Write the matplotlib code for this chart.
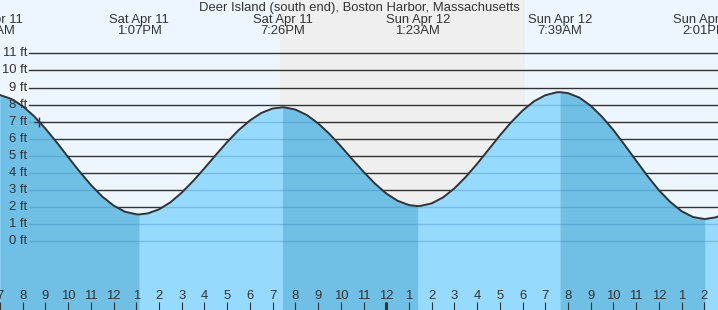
import numpy as np
import matplotlib.pyplot as plt

plt.rcParams['font.family'] = ['Liberation Sans', 'DejaVu Sans']

title = 'Deer Island (south end), Boston Harbor, Massachusetts'

# hours after midnight Sat Apr 11 / predicted height in ft
hours = [7, 7.5, 8, 8.5, 9, 9.5, 10, 10.5, 11, 11.5, 12, 12.5, 13, 13.117,
         13.5, 14, 14.5, 15, 15.5, 16, 16.5, 17, 17.5, 18, 18.5, 19, 19.433,
         19.5, 20, 20.5, 21, 21.5, 22, 22.5, 23, 23.5, 24, 24.5, 25, 25.383,
         25.5, 26, 26.5, 27, 27.5, 28, 28.5, 29, 29.5, 30, 30.5, 31, 31.5, 31.65,
         32, 32.5, 33, 33.5, 34, 34.5, 35, 35.5, 36, 36.5, 37, 37.5, 38, 38.017,
         38.5, 39]
heights = [8.56, 8.33, 7.91, 7.32, 6.59, 5.78, 4.92, 4.08, 3.29, 2.61, 2.08, 1.72, 1.57, 1.56,
           1.62, 1.86, 2.27, 2.84, 3.52, 4.27, 5.05, 5.81, 6.50, 7.07, 7.51, 7.77, 7.84,
           7.84, 7.71, 7.39, 6.90, 6.28, 5.56, 4.80, 4.06, 3.37, 2.79, 2.36, 2.11, 2.05,
           2.06, 2.21, 2.56, 3.09, 3.76, 4.53, 5.36, 6.19, 6.97, 7.65, 8.19, 8.55, 8.72, 8.73,
           8.67, 8.41, 7.93, 7.28, 6.50, 5.62, 4.71, 3.81, 2.98, 2.29, 1.75, 1.41, 1.29, 1.29,
           1.39, 1.70]

# high / low tides (alternating, starting with a high)
ext_hours = [6.70, 13.117, 19.433, 25.383, 31.65, 38.017]
ext_dates = ['Sat Apr 11', 'Sat Apr 11', 'Sat Apr 11', 'Sun Apr 12', 'Sun Apr 12', 'Sun Apr 12']
ext_times = ['6:42AM', '1:07PM', '7:26PM', '1:23AM', '7:39AM', '2:01PM']

sunset = 19.33
sunrise = 30.11
now_hour = 24.0
mark_hour = 8.72
mark_ft = 7.0

ft_levels = list(range(0, 12))
hour_ticks = list(range(7, 39))

t = np.array(hours)
h = np.array(heights)

FS = 9.4
W, H = 718., 310.
fig = plt.figure(figsize=(W / 100, H / 100), dpi=100)
ax = fig.add_axes([0, 0, 1, 1])
ax.set_xlim(7.065, 38.6)
ax.set_ylim(-4.04, 14.13)
ax.set_facecolor('#edf6fe')
for s in ax.spines.values():
    s.set_visible(False)
ax.set_yticks([])

# night
ax.axvspan(sunset, sunrise, color='#efefef', lw=0, zorder=0)

# water: light while rising, darker while falling
water = ax.fill_between(t, -5, h, color='#96dbfe', lw=0, zorder=2)
for i in range(0, len(ext_hours) - 1, 2):
    m = (t >= ext_hours[i]) & (t <= ext_hours[i + 1])
    ax.fill_between(t, -5, h, where=m, color='#70c0e5', lw=0, zorder=2)

x0 = 29 / W
clip = water.get_paths()[0]
for lv in ft_levels:
    ax.axhline(lv, xmin=x0, color='#333333', lw=1.0, zorder=1)
    ln = ax.axhline(lv, xmin=x0, color='#2a7ab0', alpha=0.3, lw=1.0, zorder=3)
    ln.set_clip_path(clip, ax.transData)
    ax.text(27 / W, lv, f'{lv} ft', transform=ax.get_yaxis_transform(),
            ha='right', va='center', fontsize=FS, color='#333333', zorder=5)

ax.plot(t, h, color='#333333', lw=1.4, zorder=4)
ax.plot(mark_hour, mark_ft, marker='+', ms=7, mew=1, color='#333333', zorder=5)

# hour axis inside the plot
ax.set_xticks(hour_ticks)
ax.tick_params(axis='x', direction='in', length=5.8, width=0.8, color='#333333',
               labelbottom=False)
ax.set_axisbelow(False)
for hr in hour_ticks:
    ax.text(hr, 14.3 / H, str((hr - 1) % 12 + 1), transform=ax.get_xaxis_transform(),
            ha='center', va='center', fontsize=FS, color='#333333', zorder=5)
ax.plot([now_hour, now_hour], [0, 8 / H], transform=ax.get_xaxis_transform(),
        color='#333333', lw=2.2, solid_capstyle='butt', zorder=5)

ax.text(0.5, 1 - 8.5 / H, title, transform=ax.transAxes, ha='center', va='center',
        fontsize=FS, color='#333333')
for xh, d, tm in zip(ext_hours, ext_dates, ext_times):
    ax.text(xh, 1 - 19.5 / H, d, transform=ax.get_xaxis_transform(),
            ha='center', va='center', fontsize=FS, color='#333333')
    ax.text(xh, 1 - 31.5 / H, tm, transform=ax.get_xaxis_transform(),
            ha='center', va='center', fontsize=FS, color='#333333')

fig.savefig('out.png', dpi=100)
